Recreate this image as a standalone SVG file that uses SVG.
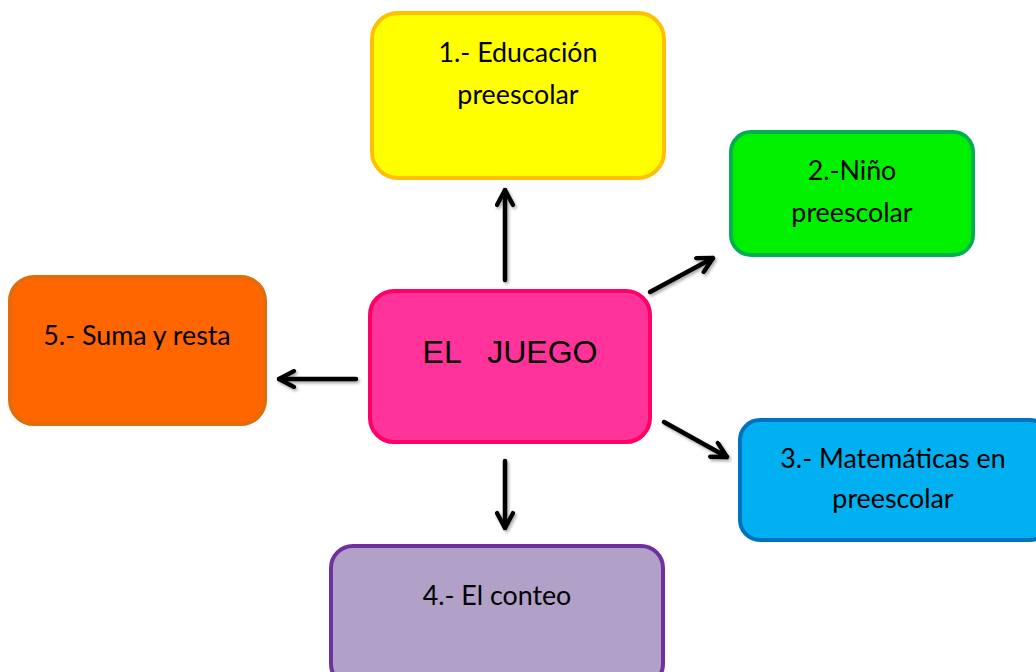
<svg xmlns="http://www.w3.org/2000/svg" width="1036" height="672" viewBox="0 0 1036 672">
<style>
.box{stroke-width:4}
.lbl{font-family:Lato,"Open Sans","Liberation Sans",sans-serif;font-size:26.8px;fill:#000;text-anchor:middle}
.conn{stroke:#000;stroke-width:4.5;fill:none;stroke-linecap:round;marker-end:url(#arr)}
</style>
<defs>
<marker id="arr" viewBox="0 0 10 10" refX="9" refY="5" markerWidth="4.4" markerHeight="4.4" orient="auto" markerUnits="strokeWidth">
<path d="M1.5,1 L9,5 L1.5,9" fill="none" stroke="#000" stroke-width="2.2" stroke-linecap="round" stroke-linejoin="round"/>
</marker>
<filter id="sh" x="-50%" y="-50%" width="200%" height="200%">
<feDropShadow dx="1.5" dy="2" stdDeviation="1.5" flood-color="#000" flood-opacity="0.35"/>
</filter>
</defs>
<rect width="1036" height="672" fill="#fff"/>
<g id="connectors" filter="url(#sh)">
<line class="conn" x1="505" y1="280" x2="505" y2="190"/>
<line class="conn" x1="650" y1="292" x2="713" y2="258"/>
<line class="conn" x1="664" y1="422" x2="727" y2="457"/>
<line class="conn" x1="505" y1="461" x2="505" y2="528"/>
<line class="conn" x1="356" y1="379" x2="279" y2="379"/>
</g>
<g id="n1">
<rect class="box" x="372" y="13" width="292" height="165" rx="26" fill="#FFFF00" stroke="#FFC000"/>
<text class="lbl" x="518" y="62">1.- Educación</text>
<text class="lbl" x="518" y="104">preescolar</text>
</g>
<g id="n2">
<rect class="box" x="731" y="132" width="242" height="123" rx="20" fill="#00F000" stroke="#00B050"/>
<text class="lbl" x="852" y="180">2.-Niño</text>
<text class="lbl" x="852" y="222">preescolar</text>
</g>
<g id="n3">
<rect class="box" x="740" y="420" width="310" height="120" rx="20" fill="#00B0F0" stroke="#0070C0"/>
<text class="lbl" x="893" y="468">3.- Matemáticas en</text>
<text class="lbl" x="893" y="508">preescolar</text>
</g>
<g id="n4">
<rect class="box" x="331" y="546" width="332" height="140" rx="22" fill="#B1A0C7" stroke="#7030A0"/>
<text class="lbl" x="497" y="605">4.- El conteo</text>
</g>
<g id="n5">
<rect class="box" x="10" y="277" width="255" height="147" rx="24" fill="#FF6600" stroke="#E36C09"/>
<text class="lbl" x="137" y="345">5.- Suma y resta</text>
</g>
<g id="center">
<rect class="box" x="370" y="291" width="280" height="151" rx="24" fill="#FF3399" stroke="#FF0066"/>
<text x="510" y="363" font-family="'Liberation Sans',Arial,sans-serif" font-size="32" text-anchor="middle" fill="#000" xml:space="preserve">EL   JUEGO</text>
</g>
</svg>
